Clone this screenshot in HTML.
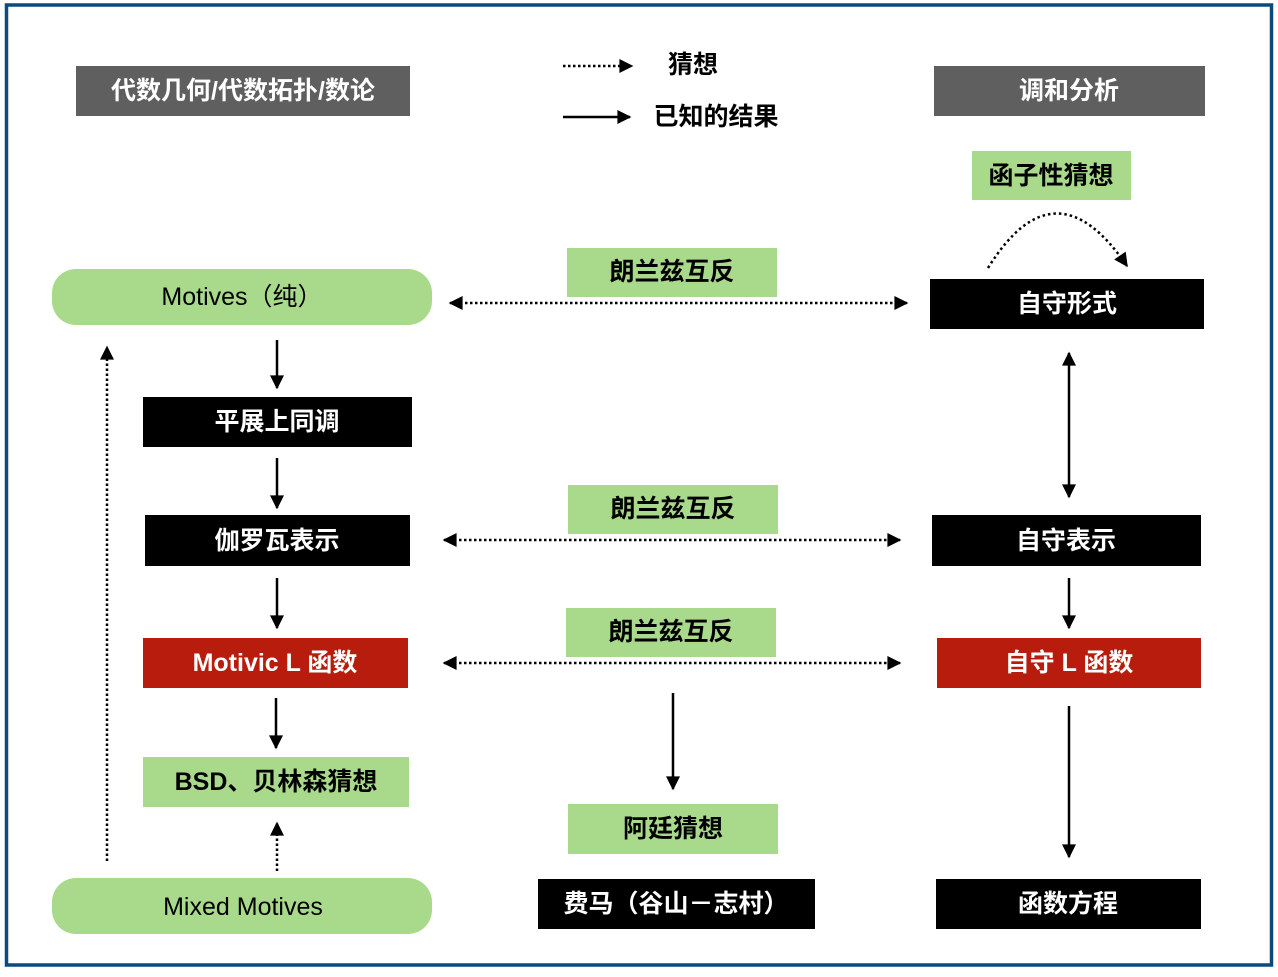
<!DOCTYPE html>
<html><head><meta charset="utf-8"><style>
html,body{margin:0;padding:0;background:#fff}
svg text{font-family:"Liberation Sans","Noto Sans CJK SC",sans-serif;font-size:25px;text-anchor:middle;dominant-baseline:central}
</style></head><body>
<svg width="1278" height="972" viewBox="0 0 1278 972" xmlns="http://www.w3.org/2000/svg">
<defs>
<marker id="a" markerWidth="10" markerHeight="10" refX="9" refY="5" orient="auto" markerUnits="userSpaceOnUse"><path d="M0,0 L10,5 L0,10 Z" fill="#000"/></marker>
<marker id="as" viewBox="0 0 10 10" markerWidth="16" markerHeight="14" refX="9" refY="5" orient="auto" markerUnits="userSpaceOnUse"><path d="M0,0 L10,5 L0,10 Z" fill="#000"/></marker>
<marker id="ar" viewBox="0 0 10 10" markerWidth="16" markerHeight="14" refX="1" refY="5" orient="auto" markerUnits="userSpaceOnUse"><path d="M10,0 L0,5 L10,10 Z" fill="#000"/></marker>
</defs>
<rect x="6.5" y="5" width="1265" height="960" fill="none" stroke="#0d4a7a" stroke-width="3.5"/>

<g fill="#5f5f5f"><rect x="76" y="66" width="334" height="50"/><rect x="934" y="66" width="271" height="50"/></g>
<text x="243" y="91" fill="#fff" font-weight="bold">代数几何/代数拓扑/数论</text>
<text x="1069" y="91" fill="#fff" font-weight="bold">调和分析</text>

<line x1="563" y1="66" x2="632" y2="66" stroke="#000" stroke-width="2.5" stroke-dasharray="2.5 2.5" marker-end="url(#as)"/>
<text x="693" y="65" font-weight="bold">猜想</text>
<line x1="563" y1="117" x2="630" y2="117" stroke="#000" stroke-width="2.5" marker-end="url(#as)"/>
<text x="716" y="117" font-weight="bold">已知的结果</text>

<g fill="#a9d98a">
<rect x="972" y="151" width="159" height="49"/>
<rect x="52" y="269" width="380" height="56" rx="24"/>
<rect x="567" y="248" width="210" height="49"/>
<rect x="568" y="485" width="210" height="49"/>
<rect x="566" y="608" width="210" height="49"/>
<rect x="143" y="757" width="266" height="50"/>
<rect x="52" y="878" width="380" height="56" rx="24"/>
<rect x="568" y="804" width="210" height="50"/>
</g>
<g fill="#000">
<rect x="930" y="279" width="274" height="50"/>
<rect x="143" y="397" width="269" height="50"/>
<rect x="145" y="515" width="265" height="51"/>
<rect x="932" y="515" width="269" height="51"/>
<rect x="538" y="879" width="277" height="50"/>
<rect x="936" y="879" width="265" height="50"/>
</g>
<g fill="#b81c0c">
<rect x="143" y="638" width="265" height="50"/>
<rect x="937" y="638" width="264" height="50"/>
</g>

<g font-weight="bold">
<text x="1051" y="176">函子性猜想</text>
<text x="242" y="297" style="font-weight:normal">Motives（纯）</text>
<text x="672" y="272">朗兰兹互反</text>
<text x="673" y="509">朗兰兹互反</text>
<text x="671" y="632">朗兰兹互反</text>
<text x="276" y="782">BSD、贝林森猜想</text>
<text x="243" y="907" style="font-weight:normal">Mixed Motives</text>
<text x="673" y="829">阿廷猜想</text>
<g fill="#fff">
<text x="1067" y="304">自守形式</text>
<text x="277" y="422">平展上同调</text>
<text x="277" y="541">伽罗瓦表示</text>
<text x="1066" y="541">自守表示</text>
<text x="676" y="904">费马（谷山－志村）</text>
<text x="1068" y="904">函数方程</text>
<text x="275" y="663">Motivic L 函数</text>
<text x="1069" y="663">自守 L 函数</text>
</g>
</g>

<g stroke="#000" stroke-width="2.5" fill="none">
<path d="M988,268 Q1055,160 1127,266" stroke-dasharray="2.5 3" marker-end="url(#as)"/>
<line x1="450" y1="303" x2="907" y2="303" stroke-dasharray="2.5 2.5" marker-start="url(#ar)" marker-end="url(#as)"/>
<line x1="444" y1="540" x2="900" y2="540" stroke-dasharray="2.5 2.5" marker-start="url(#ar)" marker-end="url(#as)"/>
<line x1="444" y1="663" x2="900" y2="663" stroke-dasharray="2.5 2.5" marker-start="url(#ar)" marker-end="url(#as)"/>
<line x1="277" y1="340" x2="277" y2="388" marker-end="url(#as)"/>
<line x1="277" y1="458" x2="277" y2="508" marker-end="url(#as)"/>
<line x1="277" y1="578" x2="277" y2="628" marker-end="url(#as)"/>
<line x1="276" y1="698" x2="276" y2="748" marker-end="url(#as)"/>
<line x1="277" y1="871" x2="277" y2="823" stroke-dasharray="2.5 2.5" marker-end="url(#as)"/>
<line x1="107" y1="861" x2="107" y2="347" stroke-dasharray="2.5 2.5" marker-end="url(#as)"/>
<line x1="1069" y1="353" x2="1069" y2="497" marker-start="url(#ar)" marker-end="url(#as)"/>
<line x1="1069" y1="578" x2="1069" y2="628" marker-end="url(#as)"/>
<line x1="1069" y1="706" x2="1069" y2="857" marker-end="url(#as)"/>
<line x1="673" y1="693" x2="673" y2="789" marker-end="url(#as)"/>
</g>
</svg>
</body></html>
